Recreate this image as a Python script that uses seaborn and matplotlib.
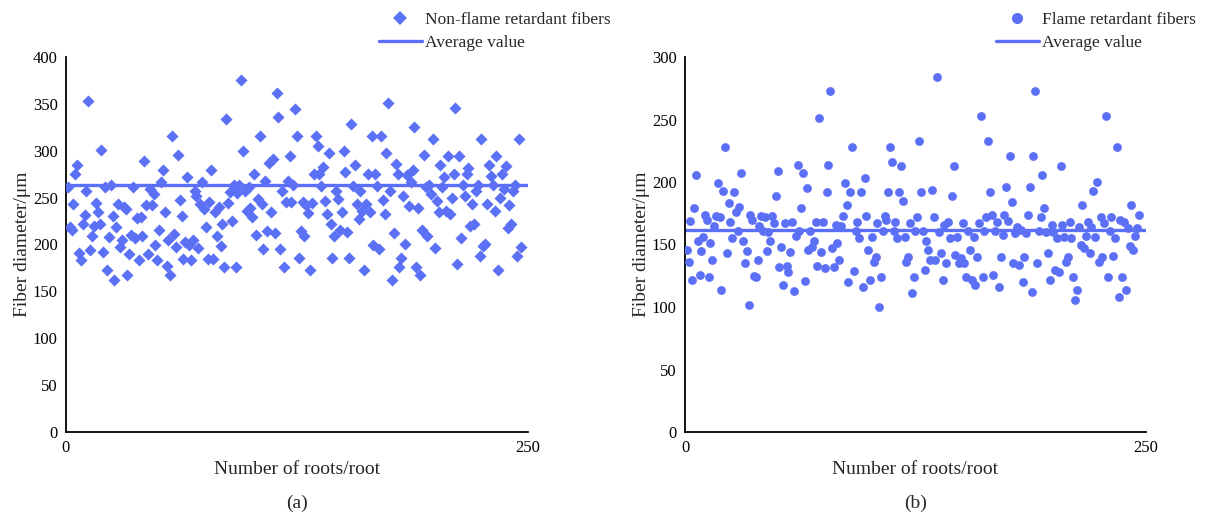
import numpy as np
import pandas as pd
import matplotlib
matplotlib.use("Agg")
import matplotlib.pyplot as plt
import seaborn as sns
from matplotlib.lines import Line2D

# ---------------- data ----------------
non_flame = [261,219,215,243,275,285,191,183,222,232,257,353,194,209,220,244,235,222,301,192,
             261,173,208,264,230,162,219,243,197,205,240,238,168,190,210,261,207,228,183,229,
             209,289,242,190,259,242,254,200,184,216,267,279,235,177,205,168,316,211,197,296,
             247,230,185,203,272,200,183,205,257,252,196,243,267,238,219,185,245,279,185,235,
             209,240,198,222,176,334,244,256,225,264,176,255,264,376,300,257,236,261,239,229,
             275,210,249,316,243,195,268,214,287,235,291,212,362,336,195,257,176,245,268,294,
             245,264,345,316,186,214,245,209,242,234,173,244,275,316,305,275,262,283,246,233,
             298,222,186,209,257,249,216,235,300,277,213,186,329,262,285,243,227,257,236,173,
             243,275,235,316,200,275,262,195,316,247,233,298,351,257,162,212,286,275,176,186,
             252,201,274,241,267,279,325,176,239,168,216,296,261,209,264,254,313,196,246,235,
             285,261,272,236,294,233,250,275,346,179,294,207,264,252,275,282,220,243,222,257,
             264,188,313,198,201,243,285,273,264,236,294,173,250,275,259,284,218,242,222,257,
             264,188,313,197]
flame = [146,136,169,122,179,206,153,126,145,156,174,170,124,151,138,165,173,199,172,114,
         193,228,143,183,168,155,192,176,161,180,207,153,135,145,102,174,170,125,124,138,
         165,173,161,172,145,160,153,173,167,189,209,132,148,118,167,133,128,144,168,113,
         157,214,161,179,207,121,195,146,161,148,153,168,133,251,144,168,131,192,214,273,
         147,132,166,151,138,165,173,199,182,120,192,228,129,161,168,155,192,116,203,173,
         146,122,156,136,140,167,100,124,161,173,170,192,228,216,161,168,155,192,213,185,
         156,136,140,167,111,124,161,172,233,192,161,130,153,146,138,194,172,138,284,160,
         143,122,166,135,168,155,189,213,142,156,135,139,167,135,124,161,146,122,156,118,
         140,167,253,124,161,172,233,192,174,126,161,168,116,140,158,174,196,169,221,184,
         135,159,164,134,162,120,140,159,174,196,112,221,273,135,161,172,206,179,160,143,
         122,166,160,130,155,128,213,166,156,136,140,168,155,124,106,114,164,150,182,147,
         157,168,143,164,193,156,200,136,172,140,167,253,124,161,172,141,155,228,108,170,
         124,168,114,163,149,182,146,157,163,174]
avg_non_flame = 263
avg_flame = 162

x_ticks = [0, 250]
y_ticks_a = [0, 50, 100, 150, 200, 250, 300, 350, 400]
y_ticks_b = [0, 50, 100, 150, 200, 250, 300]
labels = ["Non-flame retardant fibers", "Flame retardant fibers"]
panel_tags = ["(a)", "(b)"]

# ---------------- style ----------------
sns.set_theme(style="white")
plt.rcParams['font.family'] = ['Liberation Serif', 'DejaVu Serif']
BLUE = "#5B70F5"

W, H = 1207, 517
fig = plt.figure(figsize=(W/100, H/100), dpi=100)
ax_a = fig.add_axes([66/W, 1-432/H, (528-66)/W, (432-57)/H])
ax_b = fig.add_axes([685/W, 1-432/H, (1146-685)/W, (432-57)/H])

def draw(ax, vals, avg, marker, size, label, yticks, ymax, tag, leg_x):
    n = len(vals)
    df = pd.DataFrame({"root": np.linspace(1, 246, n), "d": vals})
    sns.scatterplot(data=df, x="root", y="d", ax=ax, marker=marker, s=size,
                    color=BLUE, linewidth=0, zorder=3)
    line_df = pd.DataFrame({"root": [0, 250], "d": [avg, avg]})
    sns.lineplot(data=line_df, x="root", y="d", ax=ax, color=BLUE, linewidth=2.4, zorder=2)
    ax.set_xlim(0, 250)
    ax.set_ylim(0, ymax)
    ax.set_xticks(x_ticks)
    ax.set_yticks(yticks)
    ax.tick_params(axis='both', length=0, labelsize=12, colors='black', pad=6)
    for s in ["top", "right"]:
        ax.spines[s].set_visible(False)
    for s in ["left", "bottom"]:
        ax.spines[s].set_color("black")
        ax.spines[s].set_linewidth(1.3)
    ax.set_xlabel("Number of roots/root", fontsize=14, labelpad=3)
    ax.set_ylabel("Fiber diameter/μm", fontsize=14, labelpad=1)
    bb = ax.get_position()
    fig.text((bb.x0 + bb.x1) / 2, 1 - 503/H, tag, ha='center', va='center', fontsize=14)
    handles = [Line2D([], [], marker=marker, linestyle='none', color=BLUE,
                      markersize=7 if marker == 'D' else 8, markeredgewidth=0),
               Line2D([], [], color=BLUE, linewidth=2.4)]
    ax.legend(handles, [label, "Average value"], loc='upper left',
              bbox_to_anchor=(leg_x, 1.0), bbox_transform=fig.transFigure,
              frameon=False, fontsize=12.5, handlelength=2.45, handletextpad=0.2,
              labelspacing=0.4, borderpad=0.2)

draw(ax_a, non_flame, avg_non_flame, 'D', 38, labels[0], y_ticks_a, 400, panel_tags[0], 367/W)
draw(ax_b, flame, avg_flame, 'o', 40, labels[1], y_ticks_b, 300, panel_tags[1], 984/W)

fig.savefig("out.png", dpi=100, facecolor="white")
